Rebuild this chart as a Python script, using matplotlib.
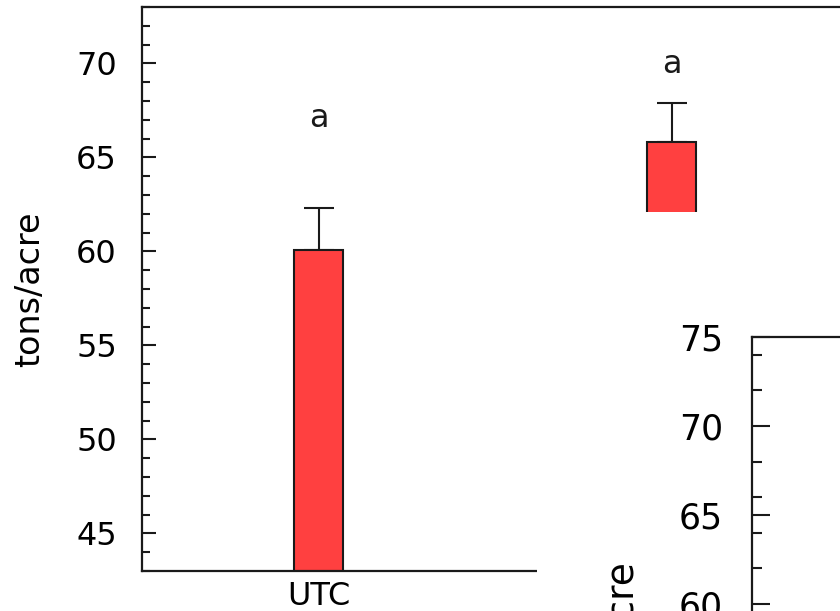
import numpy as np
import matplotlib
matplotlib.use('Agg')
import matplotlib.pyplot as plt
from matplotlib.patches import Rectangle
from matplotlib.ticker import MultipleLocator

plt.rcParams['font.family'] = ['DejaVu Sans']

# yield, tons/acre
categories = ['UTC', '']
means = [60.1, 65.8]
upper_err = [2.2, 2.1]
letters = ['a', 'a']
letter_y = [66.6, 69.5]

W, H = 840, 611
BAR_RED = '#ff4040'
INK = '#1a1a1a'


def box(x0, y0, x1, y1):
    # pixel box (top-left origin) -> figure fraction rect
    return [x0 / W, 1 - y1 / H, (x1 - x0) / W, (y1 - y0) / H]


def style_y(ax, size, pad, major_len, minor_len, minor_step):
    for s in ['left', 'top', 'bottom']:
        ax.spines[s].set_linewidth(1.6)
        ax.spines[s].set_color(INK)
    ax.spines['right'].set_visible(False)
    ax.yaxis.set_major_locator(MultipleLocator(5))
    ax.yaxis.set_minor_locator(MultipleLocator(minor_step))
    ax.tick_params(axis='y', which='major', direction='in', length=major_len,
                   width=1.5, color=INK, labelsize=size, pad=pad)
    ax.tick_params(axis='y', which='minor', direction='in', length=minor_len,
                   width=1.5, color=INK)


fig = plt.figure(figsize=(W / 100, H / 100), dpi=100)

# main panel
ax1 = fig.add_axes(box(142, 7, 142 + 353 * 3, 571))
ax1.set_zorder(0)
x = np.arange(len(categories))
ax1.bar(x, means, width=0.136, color=BAR_RED, edgecolor=INK, linewidth=1.5, zorder=2)
ax1.errorbar(x, means, yerr=[np.zeros(len(means)), upper_err], fmt='none',
             ecolor=INK, elinewidth=1.5, capsize=11, capthick=1.5, zorder=1)
for xi, lab, ly in zip(x, letters, letter_y):
    ax1.text(xi, ly, lab, ha='center', va='baseline', fontsize=23, color=INK)
ax1.set_xlim(-0.5, 2.5)
ax1.set_ylim(43, 73)
ax1.set_xticks(x)
ax1.set_xticklabels(categories)
ax1.tick_params(axis='x', length=0, labelsize=23, pad=7)
style_y(ax1, 23, 18, 10, 5.8, 1)
ax1.set_ylabel('tons/acre', fontsize=24, labelpad=22)

# white sheet laid over the lower right
fig.add_artist(Rectangle((537 / W, 0), 1 - 537 / W, 1 - 212 / H,
                         transform=fig.transFigure, facecolor='white',
                         edgecolor='none', zorder=1))

# second panel on top
ax2 = fig.add_axes(box(752, 337, 752 + 800, 337 + 17.8 * 35))
ax2.set_zorder(2)
ax2.set_ylim(40, 75)
ax2.set_xticks([])
style_y(ax2, 25, 21, 13, 7, 2)
ax2.set_ylabel('tons/acre', fontsize=27, labelpad=27)

fig.savefig('out.png', dpi=100)
